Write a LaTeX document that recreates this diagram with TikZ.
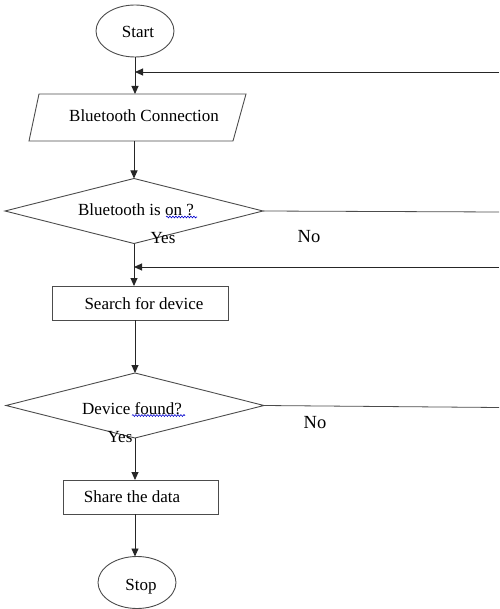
\documentclass[tikz,border=0pt]{standalone}
\usepackage{fontspec}
\setmainfont{Liberation Serif}
\usetikzlibrary{shapes.geometric,arrows.meta,decorations.pathmorphing}

\begin{document}
\begin{tikzpicture}[x=1pt,y=-1pt,
  shapeline/.style={draw=black!70, line width=0.9pt, inner sep=0pt, outer sep=0pt},
  terminal/.style={shapeline, ellipse, minimum width=78pt, minimum height=52pt},
  iobox/.style={inner sep=0pt, outer sep=0pt, rectangle, minimum width=217pt, minimum height=47pt},
  procbox/.style={shapeline, rectangle, minimum height=34pt},
  decision/.style={shapeline, diamond, minimum width=258pt, minimum height=65pt},
  txt/.style={font=\fontsize{17}{20}\selectfont, inner sep=0pt},
  bigtxt/.style={font=\fontsize{18.5}{22}\selectfont, inner sep=0pt},
  flow/.style={draw=black!85, line width=0.9pt, -{Triangle[width=7pt,length=8pt]}},
  plain/.style={draw=black!70, line width=0.8pt},
  spell/.style={draw=blue!80!black, line width=0.6pt, decorate,
                decoration={snake, amplitude=0.9pt, segment length=3pt}}
]
\useasboundingbox (0,0) rectangle (499,609);

% shapes
\node[terminal] (start) at (135,31) {};
\node[iobox] (bt) at (137.5,117.5) {};
\draw[shapeline] ([xshift=10pt]bt.north west) -- (bt.north east)
  -- ([xshift=-13pt]bt.south east) -- (bt.south west) -- cycle;
\node[decision] (d1) at (134,211) {};
\node[procbox, minimum width=176pt] (search) at (140,303) {};
\node[decision] (d2) at (135,405.5) {};
\node[procbox, minimum width=155pt] (share) at (140.5,497) {};
\node[terminal] (stop) at (137,582.5) {};

% texts
\node[txt] (tstart) at (138,32) {Start};
\node[txt] (tbt) at (144,116) {Bluetooth Connection};
\node[txt] (td1) at (136,210) {Bluetooth is on ?};
\node[txt] (tsearch) at (144,304) {Search for device};
\node[txt] (td2) at (132,409) {Device found?};
\node[txt] (tshare) at (132,497) {Share the data};
\node[txt] (tstop) at (141,587) {Stop};

\node[txt] (yes1) at (163,238) {Yes};
\node[bigtxt] (no1) at (309,237) {No};
\node[bigtxt] (no2) at (315,423) {No};
\node[txt] (yes2) at (120,437) {Yes};

% spelling marks
\draw[spell] (166,217) -- (197,217);
\draw[spell] (132,415.5) -- (185,415.5);

% loop-back and exit points at the right edge
\coordinate (r1) at (499,72);
\coordinate (r2) at (499,212);
\coordinate (r3) at (499,267);
\coordinate (r4) at (499,407.5);

% main column
\draw[flow] (start.south) -- (start.south |- bt.north);
\draw[flow] (r1) -- (start.south |- r1);
\draw[flow] (d1.north |- bt.south) -- (d1.north);
\draw[flow] (d1.south) -- (d1.south |- search.north);
\draw[flow] (r3) -- (d1.south |- r3);
\draw[flow] (d2.north |- search.south) -- (d2.north);
\draw[flow] (d2.south) -- (d2.south |- share.north);
\draw[flow] (d2.south |- share.south) -- (stop.north -| d2.south);

% "No" branches
\draw[plain] (d1.east) -- (r2);
\draw[plain] (d2.east) -- (r4);
\end{tikzpicture}
\end{document}
